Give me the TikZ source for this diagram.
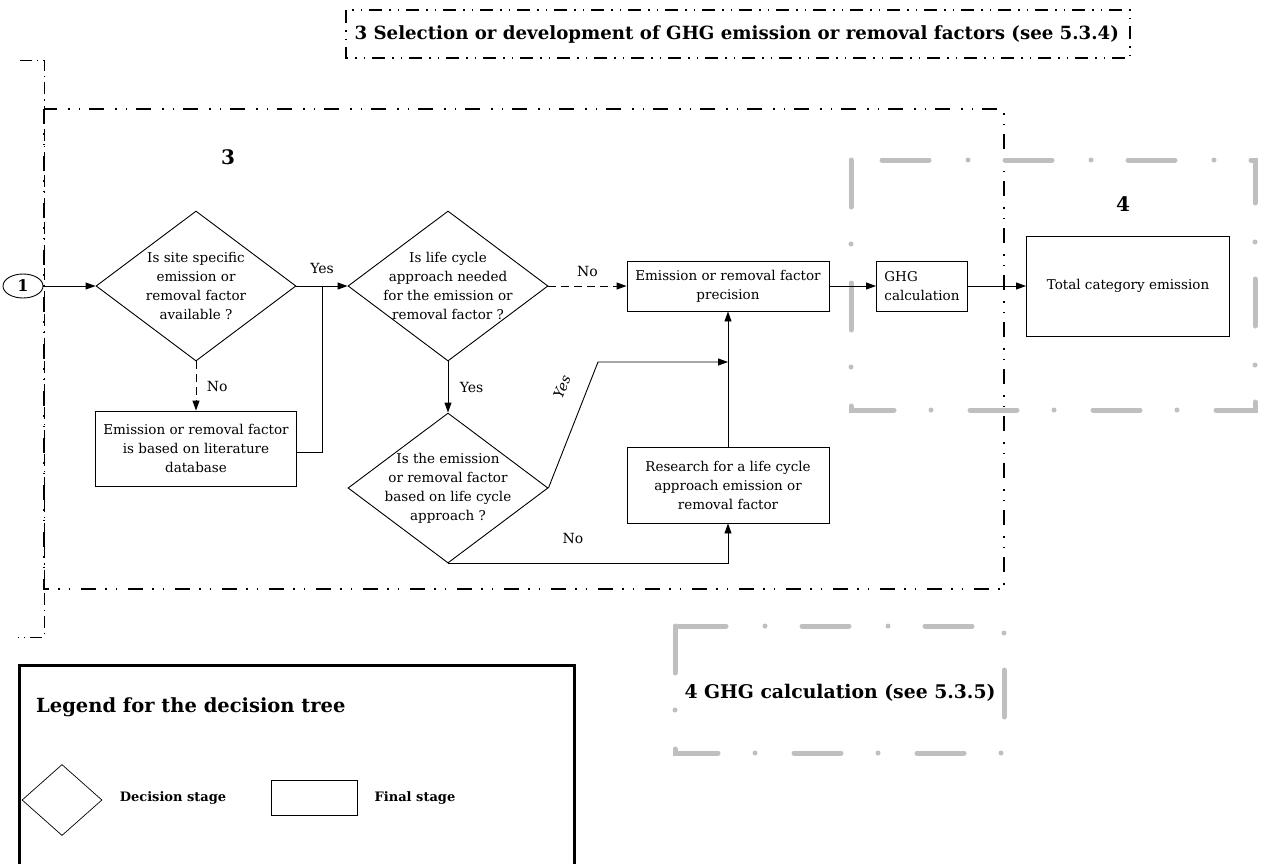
\documentclass[tikz,border=0pt]{standalone}
\usepackage{fontspec}
\setmainfont{DejaVu Serif}
\usetikzlibrary{shapes.geometric,arrows.meta}
\definecolor{framegray}{HTML}{BFBFBF}
\tikzset{
  box/.style={draw,line width=0.9pt,align=center,inner sep=2pt,font=\fontsize{13.5}{19}\selectfont},
  dia/.style={draw,diamond,line width=0.9pt,inner sep=0pt,minimum width=200pt,minimum height=150pt},
  dtext/.style={align=center,font=\fontsize{13.5}{19}\selectfont},
  arr/.style={line width=0.9pt,-{Triangle[length=10pt,width=7pt]}},
  dsh/.style={dash pattern=on 8pt off 5pt},
  plain/.style={line width=0.9pt},
  lbl/.style={font=\fontsize{14}{16}\selectfont},
  ddframe/.style={line width=1.4pt,dash pattern=on 15pt off 9pt on 1.5pt off 9pt on 1.5pt off 11pt},
  ddtop/.style={line width=1.4pt,dash pattern=on 13pt off 7pt on 1.5pt off 7pt on 1.5pt off 7pt},
  dframe/.style={line width=0.8pt,dash pattern=on 12pt off 5pt on 1.2pt off 5pt},
  grayframe/.style={draw=framegray,line width=5pt,line cap=round,dash pattern=on 47pt off 37pt on 0pt off 39pt},
  boldt/.style={font=\bfseries\fontsize{18.2}{21}\selectfont}
}
\begin{document}
\begin{tikzpicture}[x=1pt,y=-1pt]
\useasboundingbox (0,0) rectangle (1262,863);

% frames
\draw[ddtop] (346,10) rectangle (1130,58);
\node[boldt,anchor=west] (title3) at (351,34) {3 Selection or development of GHG emission or removal factors (see 5.3.4)};
\draw[dframe] (20,60) -- (44,60) -- (44,637) -- (18,637);
\draw[ddframe] (44,109) rectangle (1004,589);
\draw[grayframe] (851,160) rectangle (1255,410);
\draw[grayframe] (675,626) rectangle (1004,753);
\node[boldt,font=\bfseries\fontsize{20}{22}\selectfont] (num3) at (228,157) {3};
\node[boldt,font=\bfseries\fontsize{20}{22}\selectfont] (num4) at (1123,204) {4};
\node[boldt,font=\bfseries\fontsize{18.8}{21}\selectfont] (gh4) at (840,693) {4 GHG calculation (see 5.3.5)};

% nodes
\node[draw,ellipse,line width=0.9pt,minimum width=40pt,minimum height=24pt,inner sep=0pt,font=\bfseries\fontsize{16}{16}\selectfont] (c1) at (23,286) {1};
\node[dia] (d1) at (196,286) {};
\node[dtext] (d1t) at (d1) {Is site specific\\emission or\\removal factor\\available ?};
\node[box,minimum width=201pt,minimum height=75pt] (lit) at (196,448.5) {Emission or removal factor\\is based on literature\\database};
\node[dia] (d2) at (448,286) {};
\node[dtext] (d2t) at (d2) {Is life cycle\\approach needed\\for the emission or\\removal factor ?};
\node[dia] (d3) at (448,488) {};
\node[dtext] (d3t) at (d3) {Is the emission\\or removal factor\\based on life cycle\\approach ?};
\node[box,minimum width=202pt,minimum height=50pt] (prec) at (728,286) {Emission or removal factor\\precision};
\node[box,minimum width=202pt,minimum height=76pt] (res) at (728,485) {Research for a life cycle\\approach emission or\\removal factor};
\node[box,minimum width=91pt,minimum height=50pt,align=left] (ghg) at (922,286) {GHG\\calculation};
\node[box,minimum width=203pt,minimum height=100pt] (tot) at (1128,286) {Total category emission};

% connectors
\coordinate (j1) at (322,286);
\coordinate (bend) at (598,362);
\coordinate (meet) at (728,362);
\draw[arr] (c1) -- (d1.west);
\draw[arr,dsh] (d1.south) -- (lit.north) node[lbl,midway,right=7pt] {No};
\draw[arr] (d1.east) -- (d2.west);
\node[lbl] (yes1) at (322,268) {Yes};
\draw[plain] ([yshift=34pt]lit.south east) -| (j1);
\draw[arr,dsh] (d2.east) -- (prec.west) node[lbl,midway,above=6pt] {No};
\draw[arr] (d2.south) -- (d3.north) node[lbl,midway,right=8pt] {Yes};
\draw[arr] (d3.east) -- (bend) -- (meet);
\node[font=\itshape\fontsize{14}{16}\selectfont,rotate=68,inner sep=1pt] (yes3) at (562,387) {Yes};
\draw[arr] (d3.south) -| (res.south);
\node[lbl] (no3) at (573,538) {No};
\draw[arr] (res.north) -- (prec.south);
\draw[arr] (prec.east) -- (ghg.west);
\draw[arr] (ghg.east) -- (tot.west);

% legend
\draw[line width=3pt] (19,870) -- (19,665) -- (574,665) -- (574,870);
\node[font=\bfseries\fontsize{19.5}{24}\selectfont,anchor=west,inner sep=0pt] (legt) at (36,707) {Legend for the decision tree};
\node[draw,diamond,line width=0.7pt,inner sep=0pt,minimum width=80pt,minimum height=71pt] (ldia) at (62,800) {};
\node[font=\bfseries\fontsize{13}{16}\selectfont] (ldt) at (173,798) {Decision stage};
\node[draw,line width=0.7pt,minimum width=86pt,minimum height=35pt] (lbox) at (314,798) {};
\node[font=\bfseries\fontsize{13}{16}\selectfont] (lft) at (415,798) {Final stage};
\end{tikzpicture}
\end{document}
